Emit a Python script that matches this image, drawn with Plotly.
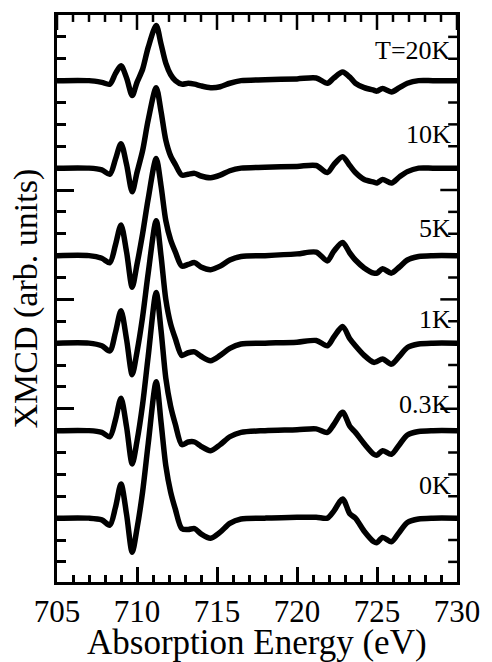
import numpy as np
import plotly.graph_objects as go

# Photon energy grid (eV)
energy = [705.0, 707.0, 707.8, 708.3, 708.65, 709.0, 709.35, 709.7, 710.0, 710.35,
          710.7, 711.2, 711.5, 711.8, 712.1, 712.4, 712.8, 713.2, 713.6, 714.0,
          714.6, 715.2, 715.8, 716.5, 718.0, 720.0, 721.2, 721.9, 722.3, 722.85,
          723.3, 723.65, 724.2, 724.8, 725.0, 725.35, 725.9, 726.4, 726.9, 727.6,
          728.5, 730.0]

# XMCD signal for each temperature (arb. units, each curve relative to its own baseline)
xmcd_20K = [0, 0, -0.02, -0.04, 0.08, 0.17, 0.03, -0.17, -0.02, 0.13,
            0.38, 0.63, 0.42, 0.2, 0.07, 0.0, -0.04, -0.03, -0.04, -0.06,
            -0.08, -0.07, -0.03, 0.0, 0.01, 0.02, 0.03, -0.03, 0.03, 0.1,
            0.04, -0.03, -0.08, -0.11, -0.12, -0.09, -0.13, -0.08, -0.03, 0.0,
            0.0, 0.0]
xmcd_10K = [0, 0, -0.02, -0.07, 0.1, 0.28, 0.04, -0.27, -0.05, 0.2,
            0.55, 0.92, 0.65, 0.32, 0.14, 0.04, -0.08, -0.07, -0.06, -0.09,
            -0.11, -0.08, -0.03, 0.0, 0.01, 0.02, 0.03, -0.05, 0.04, 0.13,
            0.03, -0.05, -0.13, -0.16, -0.17, -0.13, -0.17, -0.1, -0.04, 0.0,
            0.0, 0.0]
xmcd_5K = [0, 0, -0.03, -0.08, 0.12, 0.35, 0.04, -0.36, -0.1, 0.25,
           0.65, 1.11, 0.8, 0.4, 0.18, 0.04, -0.12, -0.1, -0.08, -0.13,
           -0.16, -0.12, -0.05, -0.01, 0.0, 0.02, 0.04, -0.06, 0.05, 0.15,
           0.03, -0.05, -0.14, -0.2, -0.2, -0.15, -0.2, -0.13, -0.05, -0.01,
           0.0, 0.0]
xmcd_1K = [0, 0, -0.03, -0.09, 0.12, 0.37, 0.04, -0.36, -0.1, 0.3,
           0.8, 1.40, 1.0, 0.5, 0.22, 0.05, -0.14, -0.11, -0.1, -0.15,
           -0.2, -0.14, -0.06, -0.01, 0.0, 0.01, 0.03, -0.03, 0.07, 0.19,
           0.05, -0.03, -0.14, -0.22, -0.21, -0.18, -0.24, -0.15, -0.05, -0.01,
           0.0, 0.0]
xmcd_03K = [0, 0, -0.02, -0.07, 0.12, 0.37, 0.04, -0.38, -0.12, 0.3,
            0.85, 1.58, 1.15, 0.6, 0.28, 0.07, -0.16, -0.13, -0.13, -0.18,
            -0.23, -0.16, -0.07, -0.02, 0.0, 0.01, 0.02, -0.02, 0.07, 0.21,
            0.05, -0.02, -0.15, -0.27, -0.28, -0.23, -0.27, -0.16, -0.05, -0.01,
            0.0, 0.0]
xmcd_0K = [0, 0, -0.02, -0.08, 0.12, 0.39, 0.04, -0.39, -0.12, 0.3,
           0.85, 1.56, 1.1, 0.6, 0.3, 0.1, -0.12, -0.13, -0.12, -0.18,
           -0.23, -0.16, -0.06, -0.01, 0.0, 0.01, 0.01, 0.0, 0.08, 0.22,
           0.05, 0.0, -0.15, -0.27, -0.28, -0.22, -0.27, -0.16, -0.05, -0.01,
           0.0, 0.0]

# Curves from top to bottom with their labels
spectra = [xmcd_20K, xmcd_10K, xmcd_5K, xmcd_1K, xmcd_03K, xmcd_0K]
temp_labels = ["T=20K", "10K", "5K", "1K", "0.3K", "0K"]
energy_ticks = [705, 710, 715, 720, 725, 730]

# vertical placement of each label above its curve baseline
label_dy = [0.34, 0.39, 0.31, 0.27, 0.30, 0.375]

SERIF = "Liberation Serif"
W, H = 492, 662
MARGIN = dict(l=57, r=28, t=12, b=80)
plot_w = W - MARGIN["l"] - MARGIN["r"]
plot_h = H - MARGIN["t"] - MARGIN["b"]

fig = go.Figure()
n = len(spectra)
for i, (sig, lab) in enumerate(zip(spectra, temp_labels)):
    shift = n - 1 - i
    fig.add_trace(go.Scatter(
        x=energy, y=[v + shift for v in sig], mode="lines",
        line=dict(color="black", width=5.5, shape="spline", smoothing=0.8),
        showlegend=False, hoverinfo="skip"))
    fig.add_annotation(
        x=0.99, xref="paper", y=shift + label_dy[i], yref="y",
        text=lab, showarrow=False, xanchor="right", yanchor="middle",
        font=dict(family=SERIF, size=26, color="black"))

x_range = [705, 730]
y_range = [-0.73, 5.75]
minor_x = list(range(705, 731))
minor_y = list(np.arange(-0.5, 5.51, 0.25))
major_y = [1.25, 2.5, 3.75]

X_MAJOR_LEN, X_MINOR_LEN = 15, 7
Y_MAJOR_LEN, Y_MINOR_LEN = 17, 9
TICK_W = 2.5

fig.update_xaxes(
    range=x_range, tickvals=energy_ticks, ticktext=[str(t) for t in energy_ticks],
    ticks="inside", ticklen=X_MAJOR_LEN, tickwidth=TICK_W, tickcolor="black",
    showline=True, linewidth=3, linecolor="black", mirror=True,
    showgrid=False, zeroline=False,
    tickfont=dict(family=SERIF, size=31, color="black"),
    minor=dict(tickvals=minor_x, ticks="inside", ticklen=X_MINOR_LEN,
               tickwidth=TICK_W, tickcolor="black", showgrid=False))
fig.update_yaxes(
    range=y_range, tickvals=major_y, showticklabels=False,
    ticks="inside", ticklen=Y_MAJOR_LEN, tickwidth=TICK_W, tickcolor="black",
    showline=True, linewidth=3, linecolor="black", mirror=True,
    showgrid=False, zeroline=False,
    minor=dict(tickvals=minor_y, ticks="inside", ticklen=Y_MINOR_LEN,
               tickwidth=TICK_W, tickcolor="black", showgrid=False))

# mirrored tick marks along the top and right edges of the frame
tick_line = dict(color="black", width=TICK_W)
for e in minor_x:
    length = X_MAJOR_LEN if e in energy_ticks else X_MINOR_LEN
    fig.add_shape(type="line", xref="x", yref="paper", x0=e, x1=e,
                  y0=1, y1=1 - length / plot_h, line=tick_line)
for v in minor_y:
    length = Y_MAJOR_LEN if v in major_y else Y_MINOR_LEN
    fig.add_shape(type="line", xref="paper", yref="y", x0=1, x1=1 - length / plot_w,
                  y0=v, y1=v, line=tick_line)

fig.add_annotation(
    x=0.5, xref="paper", y=-0.106, yref="paper", text="Absorption Energy (eV)",
    showarrow=False, xanchor="center", yanchor="middle",
    font=dict(family=SERIF, size=35, color="black"))
fig.add_annotation(
    x=-0.08, xref="paper", y=0.5, yref="paper", text="XMCD (arb. units)",
    showarrow=False, xanchor="center", yanchor="middle", textangle=-90,
    font=dict(family=SERIF, size=34, color="black"))

fig.update_layout(
    width=W, height=H, margin=MARGIN,
    paper_bgcolor="white", plot_bgcolor="white")

fig.write_html("out.html")
